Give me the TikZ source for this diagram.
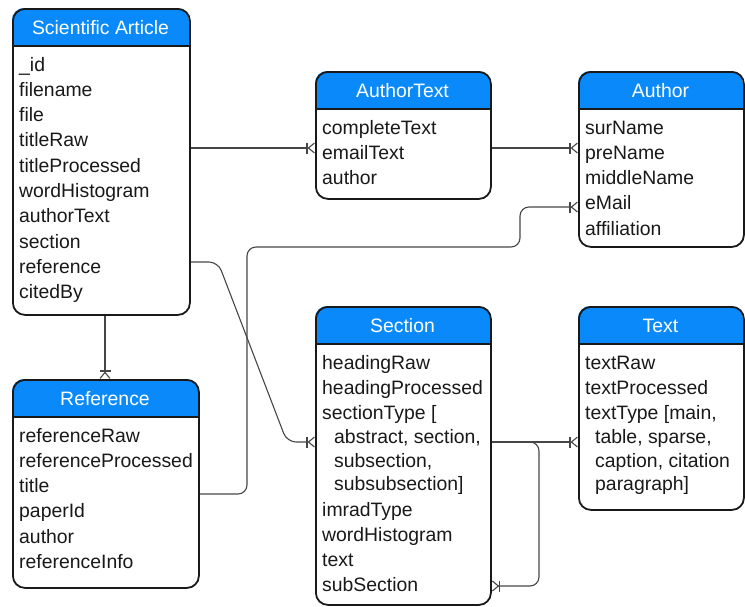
\documentclass[tikz,border=0pt]{standalone}
\usepackage{fontspec}
\setmainfont{Liberation Sans}
\usetikzlibrary{arrows.meta}
\definecolor{hdrblue}{RGB}{10,138,250}
\definecolor{edgecol}{RGB}{25,25,25}
\definecolor{conncol}{RGB}{70,70,70}
\tikzset{
  entitybox/.style={draw=edgecol, line width=1.8pt, rounded corners=12pt, inner sep=0pt, anchor=north west},
  titletext/.style={text=white, font=\fontsize{19.4pt}{23pt}\selectfont, anchor=base, inner sep=0pt},
  rowtext/.style={text=black!90, font=\fontsize{19.4pt}{23pt}\selectfont, anchor=base west, inner sep=0pt},
  crow/.tip={Bar[width=11pt,line width=1.1pt,sep=0pt] Straight Barb[reversed,length=6pt,width=10pt,line width=1.1pt]},
  link/.style={draw=conncol, line width=1.1pt, rounded corners=9pt, -{crow}},
}
% #1 name, #2 x, #3 y, #4 width, #5 height, #6 title, #7 rows as offset/text
\newcommand\erentity[7]{%
  \fill[white,rounded corners=12pt] (#2,#3) rectangle ++(#4,#5);
  \begin{scope}
    \clip[rounded corners=12pt] (#2,#3) rectangle ++(#4,#5);
    \fill[hdrblue] (#2,#3) rectangle ++(#4,38);
  \end{scope}
  \draw[edgecol, line width=1.8pt] (#2,#3+38) -- ++(#4,0);
  \node[entitybox, minimum width=#4pt, minimum height=#5pt] (#1) at (#2,#3) {};
  \node[titletext] (#1-t) at (#2+#4/2, #3+26) {#6};
  \foreach \dy/\rowtxt [count=\i] in {#7}
    \node[rowtext] (#1-r\i) at (#2+7, #3+63+\dy) {\rowtxt};
}
\begin{document}
\begin{tikzpicture}[x=1pt,y=-1pt]
\useasboundingbox (0,0) rectangle (745,606);
\erentity{sa}{12}{8}{177}{306}{Scientific Article}{0/\_id,25.3/filename,50.6/file,75.9/titleRaw,101.2/titleProcessed,126.5/wordHistogram,151.8/authorText,177.1/section,202.4/reference,227.7/citedBy}
\erentity{at}{315}{71}{175}{127}{AuthorText}{0/completeText,25.3/emailText,50.6/author}
\erentity{au}{578}{71}{165}{175}{Author}{0/surName,25.3/preName,50.6/middleName,75.9/eMail,101.2/affiliation}
\erentity{se}{315}{306}{175}{298}{Section}{0/headingRaw,25.3/headingProcessed,50.6/sectionType [,{74.3/\hspace*{12pt}abstract, section,},{98/\hspace*{12pt}subsection,},{121.7/\hspace*{12pt}subsubsection]},147/imradType,172.3/wordHistogram,197.6/text,222.9/subSection}
\erentity{tx}{578}{306}{165}{203}{Text}{0/textRaw,25.3/textProcessed,{50.6/textType [main,},{74.3/\hspace*{10pt}table, sparse,},{98/\hspace*{10pt}caption, citation},{121.7/\hspace*{10pt}paragraph]}}
\erentity{rf}{12}{379}{186}{208}{Reference}{0/referenceRaw,25.3/referenceProcessed,50.6/title,75.9/paperId,101.2/author,126.5/referenceInfo}

\coordinate (c148) at (0,148);
\coordinate (c262) at (0,262);
\coordinate (c442) at (0,442);
\coordinate (c586) at (0,586);
\coordinate (c494) at (0,494);
\coordinate (c207) at (0,207);
\coordinate (x105) at (105,0);

\draw[link] (sa.east |- c148) -- (at.west |- c148);
\draw[link] (at.east |- c148) -- (au.west |- c148);
\draw[link] (sa.south -| x105) -- (rf.north -| x105);
\draw[link] (sa.east |- c262) -- (218,262) -- (287,442) -- (se.west |- c442);
\draw[link] (rf.east |- c494) -- (247,494) -- (247,247) -- (520,247) -- (520,207) -- (au.west |- c207);
\draw[link] (se.east |- c442) -- (tx.west |- c442);
\draw[link] (se.east |- c442) -- (539,442) -- (539,586) -- (se.east |- c586);
\end{tikzpicture}
\end{document}
